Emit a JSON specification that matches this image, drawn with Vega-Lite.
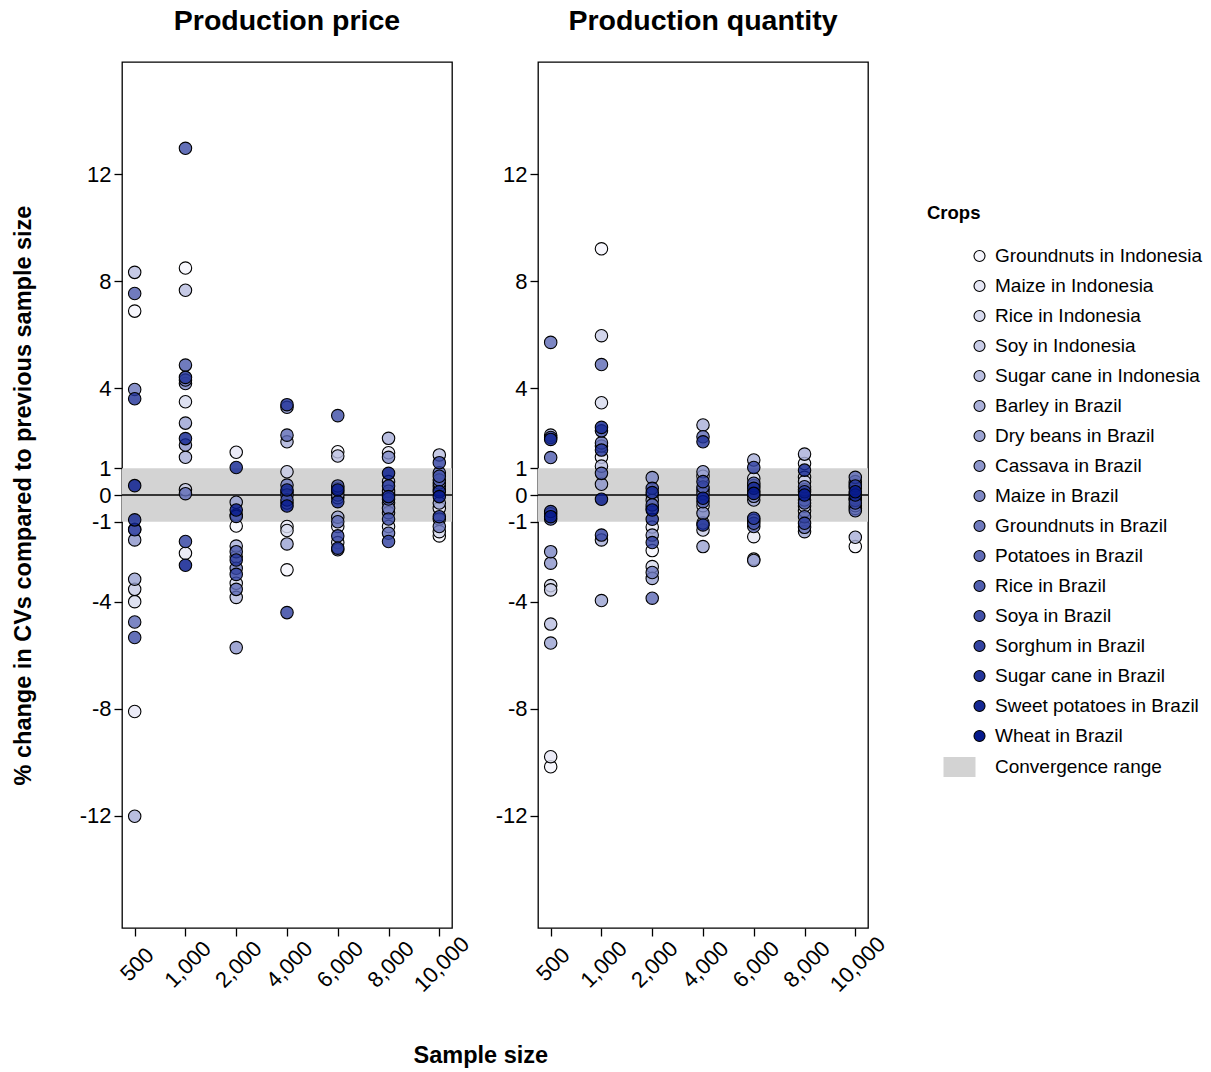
{
  "$schema": "https://vega.github.io/schema/vega-lite/v6.json",
  "background": "white",
  "padding": {"left": 10, "top": 5, "right": 5, "bottom": 5},
  "datasets": {
    "crops": [
      {"k": 0, "c": "Groundnuts in Indonesia"},
      {"k": 1, "c": "Maize in Indonesia"},
      {"k": 2, "c": "Rice in Indonesia"},
      {"k": 3, "c": "Soy in Indonesia"},
      {"k": 4, "c": "Sugar cane in Indonesia"},
      {"k": 5, "c": "Barley in Brazil"},
      {"k": 6, "c": "Dry beans in Brazil"},
      {"k": 7, "c": "Cassava in Brazil"},
      {"k": 8, "c": "Maize in Brazil"},
      {"k": 9, "c": "Groundnuts in Brazil"},
      {"k": 10, "c": "Potatoes in Brazil"},
      {"k": 11, "c": "Rice in Brazil"},
      {"k": 12, "c": "Soya in Brazil"},
      {"k": 13, "c": "Sorghum in Brazil"},
      {"k": 14, "c": "Sugar cane in Brazil"},
      {"k": 15, "c": "Sweet potatoes in Brazil"},
      {"k": 16, "c": "Wheat in Brazil"}
    ],
    "pts": [
      {"p":"P","s":"500","k":0,"v":6.88},{"p":"P","s":"500","k":1,"v":-8.10},{"p":"P","s":"500","k":2,"v":-3.99},{"p":"P","s":"500","k":3,"v":-3.53},{"p":"P","s":"500","k":4,"v":8.33},{"p":"P","s":"500","k":5,"v":-12.02},{"p":"P","s":"500","k":6,"v":-3.15},{"p":"P","s":"500","k":7,"v":-1.68},{"p":"P","s":"500","k":8,"v":-1.28},{"p":"P","s":"500","k":9,"v":3.95},{"p":"P","s":"500","k":10,"v":-4.75},{"p":"P","s":"500","k":11,"v":7.54},{"p":"P","s":"500","k":12,"v":-5.33},{"p":"P","s":"500","k":13,"v":-1.3},{"p":"P","s":"500","k":14,"v":3.60},{"p":"P","s":"500","k":15,"v":-0.93},{"p":"P","s":"500","k":16,"v":0.35},
      {"p":"P","s":"1,000","k":0,"v":8.49},{"p":"P","s":"1,000","k":1,"v":-2.18},{"p":"P","s":"1,000","k":2,"v":3.49},{"p":"P","s":"1,000","k":3,"v":0.2},{"p":"P","s":"1,000","k":4,"v":7.66},{"p":"P","s":"1,000","k":5,"v":1.41},{"p":"P","s":"1,000","k":6,"v":2.69},{"p":"P","s":"1,000","k":7,"v":1.87},{"p":"P","s":"1,000","k":8,"v":4.17},{"p":"P","s":"1,000","k":9,"v":4.30},{"p":"P","s":"1,000","k":10,"v":0.05},{"p":"P","s":"1,000","k":11,"v":4.86},{"p":"P","s":"1,000","k":12,"v":12.97},{"p":"P","s":"1,000","k":13,"v":-1.74},{"p":"P","s":"1,000","k":14,"v":4.40},{"p":"P","s":"1,000","k":15,"v":2.11},{"p":"P","s":"1,000","k":16,"v":-2.63},
      {"p":"P","s":"2,000","k":0,"v":-1.16},{"p":"P","s":"2,000","k":1,"v":1.60},{"p":"P","s":"2,000","k":2,"v":-3.30},{"p":"P","s":"2,000","k":3,"v":-2.31},{"p":"P","s":"2,000","k":4,"v":-3.83},{"p":"P","s":"2,000","k":5,"v":-1.91},{"p":"P","s":"2,000","k":6,"v":-0.27},{"p":"P","s":"2,000","k":7,"v":-5.71},{"p":"P","s":"2,000","k":8,"v":-0.75},{"p":"P","s":"2,000","k":9,"v":-2.74},{"p":"P","s":"2,000","k":10,"v":-3.53},{"p":"P","s":"2,000","k":11,"v":-2.12},{"p":"P","s":"2,000","k":12,"v":-0.8},{"p":"P","s":"2,000","k":13,"v":-2.97},{"p":"P","s":"2,000","k":14,"v":-2.43},{"p":"P","s":"2,000","k":15,"v":1.03},{"p":"P","s":"2,000","k":16,"v":-0.56},
      {"p":"P","s":"4,000","k":0,"v":-2.80},{"p":"P","s":"4,000","k":1,"v":-1.18},{"p":"P","s":"4,000","k":2,"v":-1.33},{"p":"P","s":"4,000","k":3,"v":0.87},{"p":"P","s":"4,000","k":4,"v":-0.3},{"p":"P","s":"4,000","k":5,"v":1.99},{"p":"P","s":"4,000","k":6,"v":-1.83},{"p":"P","s":"4,000","k":7,"v":0.1},{"p":"P","s":"4,000","k":8,"v":3.28},{"p":"P","s":"4,000","k":9,"v":0.37},{"p":"P","s":"4,000","k":10,"v":2.24},{"p":"P","s":"4,000","k":11,"v":0.0},{"p":"P","s":"4,000","k":12,"v":-0.19},{"p":"P","s":"4,000","k":13,"v":-4.40},{"p":"P","s":"4,000","k":14,"v":3.38},{"p":"P","s":"4,000","k":15,"v":0.19},{"p":"P","s":"4,000","k":16,"v":-0.41},
      {"p":"P","s":"6,000","k":0,"v":1.62},{"p":"P","s":"6,000","k":1,"v":-1.18},{"p":"P","s":"6,000","k":2,"v":-1.78},{"p":"P","s":"6,000","k":3,"v":-0.1},{"p":"P","s":"6,000","k":4,"v":1.46},{"p":"P","s":"6,000","k":5,"v":0.1},{"p":"P","s":"6,000","k":6,"v":-0.83},{"p":"P","s":"6,000","k":7,"v":0.0},{"p":"P","s":"6,000","k":8,"v":-2.05},{"p":"P","s":"6,000","k":9,"v":0.25},{"p":"P","s":"6,000","k":10,"v":-1.0},{"p":"P","s":"6,000","k":11,"v":0.34},{"p":"P","s":"6,000","k":12,"v":2.97},{"p":"P","s":"6,000","k":13,"v":-1.53},{"p":"P","s":"6,000","k":14,"v":-1.99},{"p":"P","s":"6,000","k":15,"v":-0.25},{"p":"P","s":"6,000","k":16,"v":0.19},
      {"p":"P","s":"8,000","k":0,"v":0.05},{"p":"P","s":"8,000","k":1,"v":1.58},{"p":"P","s":"8,000","k":2,"v":-1.18},{"p":"P","s":"8,000","k":3,"v":-0.29},{"p":"P","s":"8,000","k":4,"v":0.5},{"p":"P","s":"8,000","k":5,"v":2.12},{"p":"P","s":"8,000","k":6,"v":0.14},{"p":"P","s":"8,000","k":7,"v":-0.66},{"p":"P","s":"8,000","k":8,"v":1.41},{"p":"P","s":"8,000","k":9,"v":-0.5},{"p":"P","s":"8,000","k":10,"v":-1.43},{"p":"P","s":"8,000","k":11,"v":-0.15},{"p":"P","s":"8,000","k":12,"v":-0.9},{"p":"P","s":"8,000","k":13,"v":-1.74},{"p":"P","s":"8,000","k":14,"v":0.34},{"p":"P","s":"8,000","k":15,"v":-0.06},{"p":"P","s":"8,000","k":16,"v":0.81},
      {"p":"P","s":"10,000","k":0,"v":-1.53},{"p":"P","s":"10,000","k":1,"v":-0.50},{"p":"P","s":"10,000","k":2,"v":-1.37},{"p":"P","s":"10,000","k":3,"v":0.2},{"p":"P","s":"10,000","k":4,"v":1.50},{"p":"P","s":"10,000","k":5,"v":-0.9},{"p":"P","s":"10,000","k":6,"v":-0.3},{"p":"P","s":"10,000","k":7,"v":0.34},{"p":"P","s":"10,000","k":8,"v":0.45},{"p":"P","s":"10,000","k":9,"v":-1.18},{"p":"P","s":"10,000","k":10,"v":0.83},{"p":"P","s":"10,000","k":11,"v":0.56},{"p":"P","s":"10,000","k":12,"v":0.7},{"p":"P","s":"10,000","k":13,"v":1.21},{"p":"P","s":"10,000","k":14,"v":-0.81},{"p":"P","s":"10,000","k":15,"v":0.12},{"p":"P","s":"10,000","k":16,"v":-0.06},
      {"p":"Q","s":"500","k":0,"v":-10.17},{"p":"Q","s":"500","k":1,"v":-9.79},{"p":"Q","s":"500","k":2,"v":-3.39},{"p":"Q","s":"500","k":3,"v":-3.55},{"p":"Q","s":"500","k":4,"v":-4.83},{"p":"Q","s":"500","k":5,"v":2.24},{"p":"Q","s":"500","k":6,"v":-5.54},{"p":"Q","s":"500","k":7,"v":-2.55},{"p":"Q","s":"500","k":8,"v":-2.12},{"p":"Q","s":"500","k":9,"v":-0.7},{"p":"Q","s":"500","k":10,"v":5.71},{"p":"Q","s":"500","k":11,"v":1.40},{"p":"Q","s":"500","k":12,"v":-0.9},{"p":"Q","s":"500","k":13,"v":2.15},{"p":"Q","s":"500","k":14,"v":-0.62},{"p":"Q","s":"500","k":15,"v":2.08},{"p":"Q","s":"500","k":16,"v":-0.81},
      {"p":"Q","s":"1,000","k":0,"v":9.21},{"p":"Q","s":"1,000","k":1,"v":1.41},{"p":"Q","s":"1,000","k":2,"v":3.45},{"p":"Q","s":"1,000","k":3,"v":5.96},{"p":"Q","s":"1,000","k":4,"v":1.08},{"p":"Q","s":"1,000","k":5,"v":-1.68},{"p":"Q","s":"1,000","k":6,"v":-3.95},{"p":"Q","s":"1,000","k":7,"v":0.40},{"p":"Q","s":"1,000","k":8,"v":1.83},{"p":"Q","s":"1,000","k":9,"v":1.95},{"p":"Q","s":"1,000","k":10,"v":4.88},{"p":"Q","s":"1,000","k":11,"v":0.81},{"p":"Q","s":"1,000","k":12,"v":2.4},{"p":"Q","s":"1,000","k":13,"v":-1.50},{"p":"Q","s":"1,000","k":14,"v":1.68},{"p":"Q","s":"1,000","k":15,"v":2.53},{"p":"Q","s":"1,000","k":16,"v":-0.16},
      {"p":"Q","s":"2,000","k":0,"v":-2.08},{"p":"Q","s":"2,000","k":1,"v":-1.2},{"p":"Q","s":"2,000","k":2,"v":-2.68},{"p":"Q","s":"2,000","k":3,"v":0.0},{"p":"Q","s":"2,000","k":4,"v":-0.5},{"p":"Q","s":"2,000","k":5,"v":-0.2},{"p":"Q","s":"2,000","k":6,"v":-3.12},{"p":"Q","s":"2,000","k":7,"v":-1.50},{"p":"Q","s":"2,000","k":8,"v":0.65},{"p":"Q","s":"2,000","k":9,"v":-2.90},{"p":"Q","s":"2,000","k":10,"v":-3.86},{"p":"Q","s":"2,000","k":11,"v":-0.37},{"p":"Q","s":"2,000","k":12,"v":0.25},{"p":"Q","s":"2,000","k":13,"v":-1.78},{"p":"Q","s":"2,000","k":14,"v":-0.91},{"p":"Q","s":"2,000","k":15,"v":0.09},{"p":"Q","s":"2,000","k":16,"v":-0.56},
      {"p":"Q","s":"4,000","k":0,"v":-0.4},{"p":"Q","s":"4,000","k":1,"v":0.7},{"p":"Q","s":"4,000","k":2,"v":0.2},{"p":"Q","s":"4,000","k":3,"v":-1.31},{"p":"Q","s":"4,000","k":4,"v":-1.05},{"p":"Q","s":"4,000","k":5,"v":2.62},{"p":"Q","s":"4,000","k":6,"v":-1.93},{"p":"Q","s":"4,000","k":7,"v":0.87},{"p":"Q","s":"4,000","k":8,"v":-0.68},{"p":"Q","s":"4,000","k":9,"v":0.06},{"p":"Q","s":"4,000","k":10,"v":2.18},{"p":"Q","s":"4,000","k":11,"v":0.3},{"p":"Q","s":"4,000","k":12,"v":-0.25},{"p":"Q","s":"4,000","k":13,"v":0.50},{"p":"Q","s":"4,000","k":14,"v":1.99},{"p":"Q","s":"4,000","k":15,"v":-1.12},{"p":"Q","s":"4,000","k":16,"v":-0.12},
      {"p":"Q","s":"6,000","k":0,"v":-2.4},{"p":"Q","s":"6,000","k":1,"v":-1.56},{"p":"Q","s":"6,000","k":2,"v":0.62},{"p":"Q","s":"6,000","k":3,"v":0.15},{"p":"Q","s":"6,000","k":4,"v":-0.95},{"p":"Q","s":"6,000","k":5,"v":1.31},{"p":"Q","s":"6,000","k":6,"v":-0.19},{"p":"Q","s":"6,000","k":7,"v":-2.45},{"p":"Q","s":"6,000","k":8,"v":-0.05},{"p":"Q","s":"6,000","k":9,"v":0.35},{"p":"Q","s":"6,000","k":10,"v":-1.18},{"p":"Q","s":"6,000","k":11,"v":0.44},{"p":"Q","s":"6,000","k":12,"v":-1.06},{"p":"Q","s":"6,000","k":13,"v":1.03},{"p":"Q","s":"6,000","k":14,"v":-0.87},{"p":"Q","s":"6,000","k":15,"v":0.25},{"p":"Q","s":"6,000","k":16,"v":0.06},
      {"p":"Q","s":"8,000","k":0,"v":-0.6},{"p":"Q","s":"8,000","k":1,"v":0.66},{"p":"Q","s":"8,000","k":2,"v":1.18},{"p":"Q","s":"8,000","k":3,"v":0.5},{"p":"Q","s":"8,000","k":4,"v":-0.41},{"p":"Q","s":"8,000","k":5,"v":1.53},{"p":"Q","s":"8,000","k":6,"v":-1.37},{"p":"Q","s":"8,000","k":7,"v":-0.19},{"p":"Q","s":"8,000","k":8,"v":0.2},{"p":"Q","s":"8,000","k":9,"v":-1.21},{"p":"Q","s":"8,000","k":10,"v":0.31},{"p":"Q","s":"8,000","k":11,"v":-0.81},{"p":"Q","s":"8,000","k":12,"v":-0.3},{"p":"Q","s":"8,000","k":13,"v":-1.06},{"p":"Q","s":"8,000","k":14,"v":0.12},{"p":"Q","s":"8,000","k":15,"v":0.93},{"p":"Q","s":"8,000","k":16,"v":0.0},
      {"p":"Q","s":"10,000","k":0,"v":-1.93},{"p":"Q","s":"10,000","k":1,"v":-0.5},{"p":"Q","s":"10,000","k":2,"v":-0.15},{"p":"Q","s":"10,000","k":3,"v":0.4},{"p":"Q","s":"10,000","k":4,"v":-0.4},{"p":"Q","s":"10,000","k":5,"v":-1.58},{"p":"Q","s":"10,000","k":6,"v":-0.1},{"p":"Q","s":"10,000","k":7,"v":0.05},{"p":"Q","s":"10,000","k":8,"v":0.25},{"p":"Q","s":"10,000","k":9,"v":0.5},{"p":"Q","s":"10,000","k":10,"v":0.66},{"p":"Q","s":"10,000","k":11,"v":-0.59},{"p":"Q","s":"10,000","k":12,"v":-0.2},{"p":"Q","s":"10,000","k":13,"v":-0.3},{"p":"Q","s":"10,000","k":14,"v":0.34},{"p":"Q","s":"10,000","k":15,"v":0.0},{"p":"Q","s":"10,000","k":16,"v":0.12}
    ]
  },
  "data": {"name": "pts"},
  "title": {"text": "Sample size", "orient": "bottom", "anchor": "start", "frame": "bounds", "dx": 403, "offset": 48, "fontSize": 23.5, "fontWeight": "bold", "color": "black"},
  "spacing": 20,
  "hconcat": [
    {
      "width": 330, "height": 866,
      "title": {"text": "Production price", "fontSize": 28.5, "fontWeight": "bold", "offset": 27, "color": "black"},
      "layer": [
        {"data": {"values": [{}]}, "mark": {"type": "rect", "color": "#d3d3d3"},
         "encoding": {"y": {"datum": -1, "type": "quantitative", "scale": {"domain": [-16.2, 16.2], "nice": false, "zero": false}, "axis": {"title": "% change in CVs compared to previous sample size", "values": [-12, -8, -4, -1, 0, 1, 4, 8, 12], "labelExpr": "replace(datum.label, '\u2212', '-')"}}, "y2": {"datum": 1}}},
        {"data": {"values": [{}]}, "mark": {"type": "rule", "color": "black", "strokeWidth": 1.6},
         "encoding": {"y": {"datum": 0, "type": "quantitative", "scale": {"domain": [-16.2, 16.2], "nice": false, "zero": false}, "axis": {"title": "% change in CVs compared to previous sample size", "values": [-12, -8, -4, -1, 0, 1, 4, 8, 12], "labelExpr": "replace(datum.label, '\u2212', '-')"}}}},
        {"transform": [{"filter": "datum.p === 'P'"}, {"lookup": "k", "from": {"data": {"name": "crops"}, "key": "k", "fields": ["c"]}}],
         "mark": {"type": "point", "filled": true, "size": 155, "stroke": "black", "strokeWidth": 1.1, "opacity": 1, "fillOpacity": 0.82},
         "encoding": {
           "x": {"field": "s", "type": "ordinal", "sort": ["500", "1,000", "2,000", "4,000", "6,000", "8,000", "10,000"], "scale": {"type": "point", "padding": 0.25}, "axis": {"title": null}},
           "y": {"field": "v", "type": "quantitative", "scale": {"domain": [-16.2, 16.2], "nice": false, "zero": false}, "axis": {"title": "% change in CVs compared to previous sample size", "values": [-12, -8, -4, -1, 0, 1, 4, 8, 12], "labelExpr": "replace(datum.label, '\u2212', '-')"}},
           "color": {"field": "c", "type": "nominal", "title": "Crops",
             "scale": {"domain": ["Groundnuts in Indonesia", "Maize in Indonesia", "Rice in Indonesia", "Soy in Indonesia", "Sugar cane in Indonesia", "Barley in Brazil", "Dry beans in Brazil", "Cassava in Brazil", "Maize in Brazil", "Groundnuts in Brazil", "Potatoes in Brazil", "Rice in Brazil", "Soya in Brazil", "Sorghum in Brazil", "Sugar cane in Brazil", "Sweet potatoes in Brazil", "Wheat in Brazil", "Convergence range"],
               "range": ["#f5f5fc", "#e6e7f5", "#d7daee", "#c8cce7", "#b9bee0", "#aab0d9", "#9ba3d2", "#8c95cb", "#7d87c4", "#6e79bd", "#5f6bb6", "#505eaf", "#4150a8", "#3242a1", "#23349a", "#142793", "#05198c", "#d3d3d3"]},
             "legend": {
               "orient": "none", "legendX": 805, "legendY": 142,
               "titleFontSize": 18.5, "titleFontWeight": "bold", "titleColor": "black", "titlePadding": 24,
               "labelFontSize": 19, "labelColor": "black", "labelLimit": 400, "rowPadding": 10, "labelOffset": 49,
               "symbolSize": 100, "symbolStrokeColor": "black", "symbolStrokeWidth": 1, "symbolOpacity": 1,
               "encode": {"symbols": {"update": {
                 "shape": {"signal": "datum.value === 'Convergence range' ? 'M0.35,-0.5H1.95V0.5H0.35Z' : 'M4.41,0A0.5,0.5,0,1,1,3.41,0A0.5,0.5,0,1,1,4.41,0Z'"},
                 "size": {"signal": "datum.value === 'Convergence range' ? 1600 : 484"},
                 "strokeWidth": {"signal": "datum.value === 'Convergence range' ? 0 : 1.1"},
                 "stroke": {"value": "black"},
                 "fillOpacity": {"value": 1},
                 "opacity": {"value": 1}
               }}}
             }}
         }}
      ]
    },
    {
      "width": 330, "height": 866,
      "title": {"text": "Production quantity", "fontSize": 28.5, "fontWeight": "bold", "offset": 27, "color": "black"},
      "layer": [
        {"data": {"values": [{}]}, "mark": {"type": "rect", "color": "#d3d3d3"},
         "encoding": {"y": {"datum": -1, "type": "quantitative", "scale": {"domain": [-16.2, 16.2], "nice": false, "zero": false}, "axis": {"title": null, "values": [-12, -8, -4, -1, 0, 1, 4, 8, 12], "labelExpr": "replace(datum.label, '\u2212', '-')"}}, "y2": {"datum": 1}}},
        {"data": {"values": [{}]}, "mark": {"type": "rule", "color": "black", "strokeWidth": 1.6},
         "encoding": {"y": {"datum": 0, "type": "quantitative", "scale": {"domain": [-16.2, 16.2], "nice": false, "zero": false}, "axis": {"title": null, "values": [-12, -8, -4, -1, 0, 1, 4, 8, 12], "labelExpr": "replace(datum.label, '\u2212', '-')"}}}},
        {"transform": [{"filter": "datum.p === 'Q'"}, {"lookup": "k", "from": {"data": {"name": "crops"}, "key": "k", "fields": ["c"]}}],
         "mark": {"type": "point", "filled": true, "size": 155, "stroke": "black", "strokeWidth": 1.1, "opacity": 1, "fillOpacity": 0.82},
         "encoding": {
           "x": {"field": "s", "type": "ordinal", "sort": ["500", "1,000", "2,000", "4,000", "6,000", "8,000", "10,000"], "scale": {"type": "point", "padding": 0.25}, "axis": {"title": null}},
           "y": {"field": "v", "type": "quantitative", "scale": {"domain": [-16.2, 16.2], "nice": false, "zero": false}, "axis": {"title": null, "values": [-12, -8, -4, -1, 0, 1, 4, 8, 12], "labelExpr": "replace(datum.label, '\u2212', '-')"}},
           "color": {"field": "c", "type": "nominal", "title": "Crops",
             "scale": {"domain": ["Groundnuts in Indonesia", "Maize in Indonesia", "Rice in Indonesia", "Soy in Indonesia", "Sugar cane in Indonesia", "Barley in Brazil", "Dry beans in Brazil", "Cassava in Brazil", "Maize in Brazil", "Groundnuts in Brazil", "Potatoes in Brazil", "Rice in Brazil", "Soya in Brazil", "Sorghum in Brazil", "Sugar cane in Brazil", "Sweet potatoes in Brazil", "Wheat in Brazil", "Convergence range"],
               "range": ["#f5f5fc", "#e6e7f5", "#d7daee", "#c8cce7", "#b9bee0", "#aab0d9", "#9ba3d2", "#8c95cb", "#7d87c4", "#6e79bd", "#5f6bb6", "#505eaf", "#4150a8", "#3242a1", "#23349a", "#142793", "#05198c", "#d3d3d3"]},
             "legend": {
               "orient": "none", "legendX": 805, "legendY": 142,
               "titleFontSize": 18.5, "titleFontWeight": "bold", "titleColor": "black", "titlePadding": 24,
               "labelFontSize": 19, "labelColor": "black", "labelLimit": 400, "rowPadding": 10, "labelOffset": 49,
               "symbolSize": 100, "symbolStrokeColor": "black", "symbolStrokeWidth": 1, "symbolOpacity": 1,
               "encode": {"symbols": {"update": {
                 "shape": {"signal": "datum.value === 'Convergence range' ? 'M0.35,-0.5H1.95V0.5H0.35Z' : 'M4.41,0A0.5,0.5,0,1,1,3.41,0A0.5,0.5,0,1,1,4.41,0Z'"},
                 "size": {"signal": "datum.value === 'Convergence range' ? 1600 : 484"},
                 "strokeWidth": {"signal": "datum.value === 'Convergence range' ? 0 : 1.1"},
                 "stroke": {"value": "black"},
                 "fillOpacity": {"value": 1},
                 "opacity": {"value": 1}
               }}}
             }}
         }}
      ]
    }
  ],
  "config": {
    "font": "Liberation Sans",
    "view": {"stroke": "black", "strokeWidth": 1.3},
    "axis": {"domain": false, "grid": false, "labelFontSize": 22, "labelColor": "black", "tickColor": "black", "tickSize": 8, "tickWidth": 1.3, "labelPadding": 3, "titleColor": "black"},
    "axisX": {"labelAngle": -45, "labelAlign": "center", "labelBaseline": "middle", "labelPadding": 28, "labelOffset": 2},
    "axisY": {"titleFontSize": 23.5, "titleFontWeight": "bold", "titlePadding": 44}
  }
}
